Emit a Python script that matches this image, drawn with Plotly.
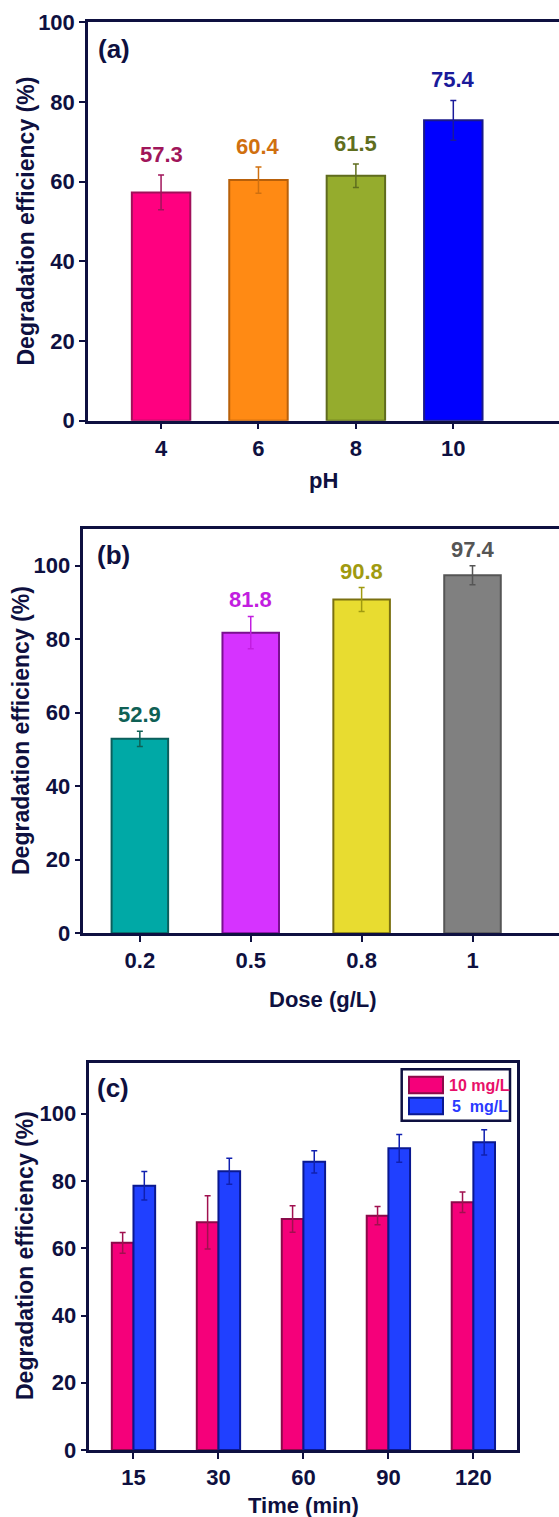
import plotly.graph_objects as go

W, H = 559, 1517

# ---------------- data ----------------
ph_values = [4, 6, 8, 10]
ph_eff = [57.3, 60.4, 61.5, 75.4]
ph_err = [4.35, 3.3, 2.95, 5.0]
ph_labels = ["57.3", "60.4", "61.5", "75.4"]

dose_cats = ["0.2", "0.5", "0.8", "1"]
dose_eff = [52.9, 81.8, 90.8, 97.4]
dose_err = [2.05, 4.4, 3.25, 2.6]
dose_labels = ["52.9", "81.8", "90.8", "97.4"]

time_cats = ["15", "30", "60", "90", "120"]
eff_10 = [61.6, 67.7, 68.7, 69.7, 73.7]
err_10 = [3.1, 7.9, 3.95, 2.75, 3.05]
eff_5 = [78.6, 82.9, 85.7, 89.7, 91.5]
err_5 = [4.25, 3.85, 3.3, 4.15, 3.75]
series_names = ["10 mg/L", "5\u00a0 mg/L"]

# ---------------- styles ----------------
INK = "#0E1040"
FONT = "Liberation Sans"
ph_fill = ["#FF0080", "#FF8A14", "#95AC2D", "#0000FF"]
ph_line = ["#A0105A", "#B8600A", "#5F6B1E", "#1A1A8A"]
ph_text = ["#A0155A", "#D0700F", "#5F6E1E", "#1A1A9A"]
dose_fill = ["#00A9A6", "#D633FF", "#E8DC30", "#808080"]
dose_line = ["#0B5F5C", "#7A1090", "#7A7010", "#555555"]
dose_text = ["#0F6055", "#C21EE0", "#A09A10", "#555555"]
c10_fill, c10_line, c10_text = "#F5007A", "#8B0A4A", "#E8106A"
c5_fill, c5_line, c5_text = "#2040FF", "#0A1890", "#2A3AFF"


def px(x):
    return x / W


def py(y):
    return 1 - y / H


fig = go.Figure()

# panel (a)
fig.add_trace(go.Bar(
    x=ph_values, y=ph_eff, width=1.2,
    marker=dict(color=ph_fill, line=dict(color=ph_line, width=2)),
    xaxis="x", yaxis="y", showlegend=False,
))
# panel (b)
fig.add_trace(go.Bar(
    x=dose_cats, y=dose_eff, width=0.51,
    marker=dict(color=dose_fill, line=dict(color=dose_line, width=2)),
    xaxis="x2", yaxis="y2", showlegend=False,
))
# panel (c)
fig.add_trace(go.Bar(
    x=time_cats, y=eff_10, name=series_names[0],
    marker=dict(color=c10_fill, line=dict(color=c10_line, width=2)),
    error_y=dict(type="data", array=err_10, color="#A0104F", thickness=1.5, width=3),
    xaxis="x3", yaxis="y3", showlegend=False,
))
fig.add_trace(go.Bar(
    x=time_cats, y=eff_5, name=series_names[1],
    marker=dict(color=c5_fill, line=dict(color=c5_line, width=2)),
    error_y=dict(type="data", array=err_5, color="#1020B0", thickness=1.5, width=3),
    xaxis="x3", yaxis="y3", showlegend=False,
))

# per-bar coloured error bars for panels (a) and (b)
for i in range(len(ph_values)):
    fig.add_trace(go.Scatter(
        x=[ph_values[i]], y=[ph_eff[i]], mode="markers",
        marker=dict(size=0.1, color="rgba(0,0,0,0)"),
        error_y=dict(type="data", array=[ph_err[i]], color=ph_text[i], thickness=1.5, width=3),
        xaxis="x", yaxis="y", showlegend=False, hoverinfo="skip",
    ))
for i in range(len(dose_cats)):
    fig.add_trace(go.Scatter(
        x=[dose_cats[i]], y=[dose_eff[i]], mode="markers",
        marker=dict(size=0.1, color="rgba(0,0,0,0)"),
        error_y=dict(type="data", array=[dose_err[i]], color=dose_text[i], thickness=1.5, width=3),
        xaxis="x2", yaxis="y2", showlegend=False, hoverinfo="skip",
    ))

tickfont = dict(family=FONT, size=22, color=INK, weight="bold")
axis_common = dict(
    showline=True, linecolor=INK, linewidth=2.5, ticks="outside", ticklen=6,
    tickwidth=2, tickcolor=INK, tickfont=tickfont, showgrid=False, zeroline=False,
    automargin=False,
)

fig.update_layout(
    width=W, height=H, margin=dict(l=0, r=0, t=0, b=0),
    template="none", paper_bgcolor="white", plot_bgcolor="white",
    barmode="group", bargap=0.49, bargroupgap=0.0,
    xaxis=dict(domain=[px(88), 1], range=[2.5, 12.17], tickvals=ph_values,
               mirror=True, anchor="y", **axis_common),
    yaxis=dict(domain=[py(420.7), py(22.3)], range=[0, 100], dtick=20,
               mirror=False, anchor="x", **axis_common),
    xaxis2=dict(domain=[px(83.3), 1], range=[-0.51, 3.78], type="category",
                mirror=True, anchor="y2", **axis_common),
    yaxis2=dict(domain=[py(933.3), py(529)], range=[0, 110], dtick=20,
                mirror=False, anchor="x2", **axis_common),
    xaxis3=dict(domain=[px(89.3), px(516.7)], range=[-0.52, 4.51], type="category",
                mirror=True, anchor="y3", **axis_common),
    yaxis3=dict(domain=[py(1450), py(1063.3)], range=[0, 115], dtick=20,
                mirror=True, anchor="x3", **axis_common),
)

ann = []
lab_font = lambda c, s=22: dict(family=FONT, size=s, color=c, weight="bold")
for i in range(len(ph_values)):
    ann.append(dict(x=ph_values[i], y=ph_eff[i] + ph_err[i], xref="x", yref="y",
                    text=ph_labels[i], showarrow=False, yanchor="bottom", yshift=6,
                    font=lab_font(ph_text[i])))
for i in range(len(dose_cats)):
    ann.append(dict(x=i, y=dose_eff[i] + dose_err[i], xref="x2", yref="y2",
                    text=dose_labels[i], showarrow=False, yanchor="bottom", yshift=2,
                    font=lab_font(dose_text[i])))

# panel labels
for t, x, y in [("(a)", 96, 49), ("(b)", 95, 555), ("(c)", 95, 1087.5)]:
    ann.append(dict(x=px(x), y=py(y), xref="paper", yref="paper", text=t,
                    showarrow=False, xanchor="left", yanchor="middle",
                    font=lab_font(INK, 26)))

# axis titles
title_font = dict(family=FONT, size=22, color=INK, weight="bold")
for t, x, y in [("pH", 323, 480), ("Dose (g/L)", 323, 1000), ("Time (min)", 303, 1505)]:
    ann.append(dict(x=px(x), y=py(y), xref="paper", yref="paper", text=t,
                    showarrow=False, xanchor="center", yanchor="middle", font=title_font))
ytitle_font = dict(family=FONT, size=23, color=INK, weight="bold")
for x, y in [(25, 221.5), (21, 731), (25, 1256)]:
    ann.append(dict(x=px(x), y=py(y), xref="paper", yref="paper",
                    text="Degradation efficiency (%)", textangle=-90,
                    showarrow=False, xanchor="center", yanchor="middle", font=ytitle_font))

# legend for panel (c)
shapes = [
    dict(type="rect", xref="paper", yref="paper", x0=px(401.7), x1=px(510),
         y0=py(1120.7), y1=py(1069.3), line=dict(color=INK, width=2.5),
         fillcolor="white"),
    dict(type="rect", xref="paper", yref="paper", x0=px(409), x1=px(443),
         y0=py(1093.3), y1=py(1076.7), line=dict(color=c10_line, width=2),
         fillcolor=c10_fill),
    dict(type="rect", xref="paper", yref="paper", x0=px(409), x1=px(443),
         y0=py(1114.3), y1=py(1097.7), line=dict(color=c5_line, width=2),
         fillcolor=c5_fill),
]
ann.append(dict(x=px(447), y=py(1085), xref="paper", yref="paper", text=series_names[0],
                showarrow=False, xanchor="left", yanchor="middle",
                font=lab_font(c10_text, 16)))
ann.append(dict(x=px(450), y=py(1106), xref="paper", yref="paper", text=series_names[1],
                showarrow=False, xanchor="left", yanchor="middle",
                font=lab_font(c5_text, 16)))

fig.update_layout(annotations=ann, shapes=shapes)
fig.write_html(
    "out.html",
    config={"displayModeBar": False},
    post_script="document.body.style.margin='0';document.body.style.padding='0';"
                "document.body.style.overflow='hidden';",
)
